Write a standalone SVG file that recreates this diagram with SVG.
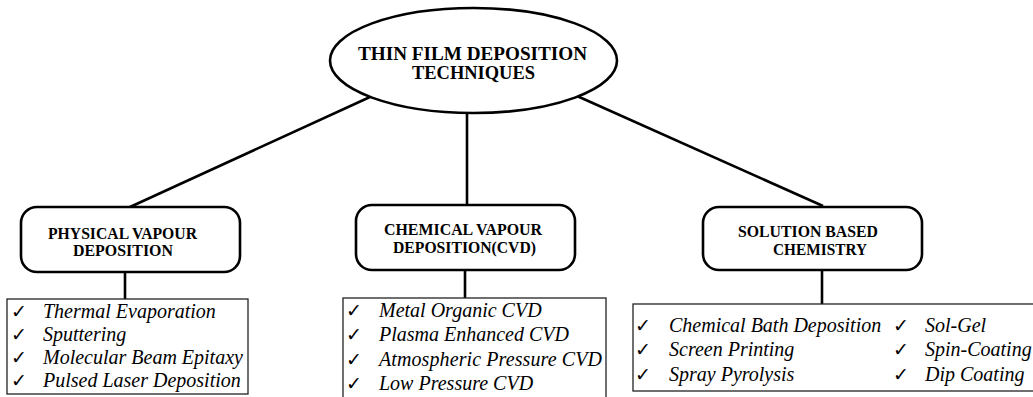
<svg xmlns="http://www.w3.org/2000/svg" width="1033" height="397" viewBox="0 0 1033 397">
<style>
.bg{fill:#fff}
.hdr{fill:#fff;stroke:#000;stroke-width:2.6}
.lst{fill:#fff;stroke:#222;stroke-width:1.3}
.con{stroke:#000;stroke-width:2.6;fill:none}
.t{font-family:"Liberation Serif","Times New Roman",serif;font-weight:bold;fill:#000}
.it{font-family:"Liberation Serif","Times New Roman",serif;font-style:italic;font-size:20px;fill:#000}
.ck{font-family:"DejaVu Sans",sans-serif;font-size:19px;fill:#000}
</style>
<rect class="bg" x="0" y="0" width="1033" height="397"/>
<g id="connectors">
<line class="con" x1="370" y1="97" x2="130" y2="207"/>
<line class="con" x1="467" y1="112" x2="467" y2="206"/>
<line class="con" x1="577" y1="96" x2="823" y2="206"/>
<line class="con" x1="125" y1="271" x2="125" y2="299"/>
<line class="con" x1="465" y1="269" x2="465" y2="298"/>
<line class="con" x1="822" y1="269" x2="822" y2="304"/>
</g>
<g id="root">
<ellipse class="hdr" cx="473.5" cy="60.5" rx="143.5" ry="52.5"/>
<text class="t" x="472.5" y="59.5" font-size="19" text-anchor="middle" textLength="229" lengthAdjust="spacingAndGlyphs">THIN FILM DEPOSITION</text>
<text class="t" x="473.5" y="78.5" font-size="19" text-anchor="middle" textLength="123" lengthAdjust="spacingAndGlyphs">TECHNIQUES</text>
</g>
<g id="pvd">
<rect class="hdr" x="21" y="207" width="219" height="65" rx="16" ry="16"/>
<text class="t" x="122.5" y="239" font-size="17" text-anchor="middle" textLength="149" lengthAdjust="spacingAndGlyphs">PHYSICAL VAPOUR</text>
<text class="t" x="123" y="256" font-size="17" text-anchor="middle" textLength="100" lengthAdjust="spacingAndGlyphs">DEPOSITION</text>
</g>
<g id="pvd-list">
<rect class="lst" x="7" y="299" width="241" height="95"/>
<text class="ck" x="11" y="318">✓</text><text class="it" x="43" y="318">Thermal Evaporation</text>
<text class="ck" x="11" y="341">✓</text><text class="it" x="43" y="341">Sputtering</text>
<text class="ck" x="11" y="364">✓</text><text class="it" x="43" y="364">Molecular Beam Epitaxy</text>
<text class="ck" x="11" y="387">✓</text><text class="it" x="43" y="387">Pulsed Laser Deposition</text>
</g>
<g id="cvd">
<rect class="hdr" x="356" y="205" width="219" height="65" rx="16" ry="16"/>
<text class="t" x="463" y="235" font-size="17" text-anchor="middle" textLength="158" lengthAdjust="spacingAndGlyphs">CHEMICAL VAPOUR</text>
<text class="t" x="464.5" y="253" font-size="17" text-anchor="middle" textLength="143" lengthAdjust="spacingAndGlyphs">DEPOSITION(CVD)</text>
</g>
<g id="cvd-list">
<rect class="lst" x="343" y="298" width="263" height="110"/>
<text class="ck" x="346" y="317">✓</text><text class="it" x="379" y="317">Metal Organic CVD</text>
<text class="ck" x="346" y="341">✓</text><text class="it" x="379" y="341">Plasma Enhanced CVD</text>
<text class="ck" x="346" y="366">✓</text><text class="it" x="379" y="366" textLength="223" lengthAdjust="spacing">Atmospheric Pressure CVD</text>
<text class="ck" x="346" y="390">✓</text><text class="it" x="379" y="390">Low Pressure CVD</text>
</g>
<g id="sol">
<rect class="hdr" x="703" y="207" width="219" height="63" rx="16" ry="16"/>
<text class="t" x="808" y="237" font-size="17" text-anchor="middle" textLength="140" lengthAdjust="spacingAndGlyphs">SOLUTION BASED</text>
<text class="t" x="820" y="255" font-size="17" text-anchor="middle" textLength="94" lengthAdjust="spacingAndGlyphs">CHEMISTRY</text>
</g>
<g id="sol-list">
<rect class="lst" x="633" y="304" width="420" height="87"/>
<text class="ck" x="635" y="332">✓</text><text class="it" x="669" y="332">Chemical Bath Deposition</text>
<text class="ck" x="635" y="356">✓</text><text class="it" x="669" y="356">Screen Printing</text>
<text class="ck" x="635" y="381">✓</text><text class="it" x="669" y="381">Spray Pyrolysis</text>
<text class="ck" x="893" y="332">✓</text><text class="it" x="925" y="332">Sol-Gel</text>
<text class="ck" x="893" y="356">✓</text><text class="it" x="925" y="356">Spin-Coating</text>
<text class="ck" x="893" y="381">✓</text><text class="it" x="925" y="381">Dip Coating</text>
</g>
</svg>
